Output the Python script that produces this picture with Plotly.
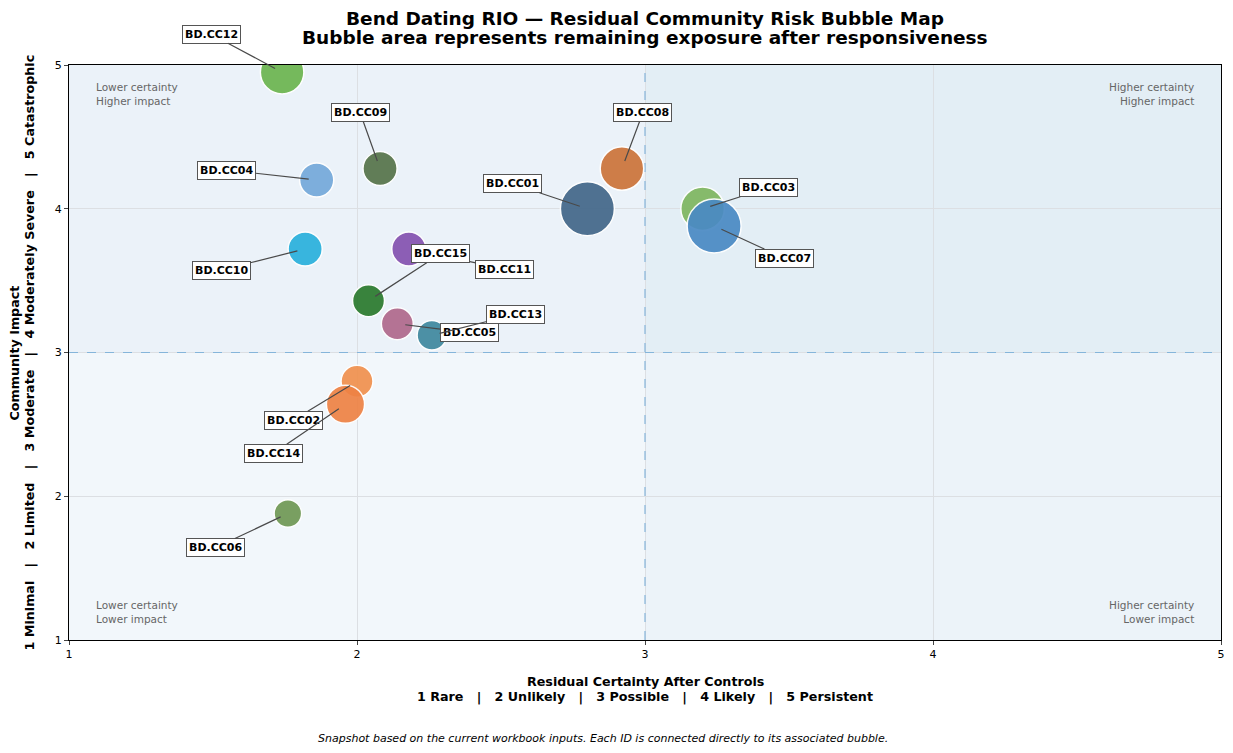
import plotly.graph_objects as go

# risk register snapshot
risk_ids = ["BD.CC01", "BD.CC02", "BD.CC03", "BD.CC04", "BD.CC05",
            "BD.CC06", "BD.CC07", "BD.CC08", "BD.CC09", "BD.CC10",
            "BD.CC11", "BD.CC12", "BD.CC13", "BD.CC14", "BD.CC15"]
certainty = [2.80, 2.00, 3.20, 1.86, 2.14, 1.76, 3.24, 2.92, 2.08, 1.82,
             2.18, 1.74, 2.26, 1.96, 2.04]
impact = [4.00, 2.80, 4.00, 4.20, 3.20, 1.88, 3.88, 4.28, 4.28, 3.72,
          3.72, 4.95, 3.12, 2.64, 3.36]
exposure = [20, 7, 13, 8, 7, 5.2, 20, 13, 8, 8, 8, 13, 6, 10, 7]
colors = ["#426789", "#F0914E", "#7FB660", "#74A9DA", "#B0698C",
          "#6F9854", "#4A8AC4", "#CC743A", "#56744A", "#29B0DC",
          "#8452B0", "#6CB54F", "#3F889E", "#EE8244", "#2A7A2E"]

# label offsets in pixels (label centre relative to bubble)
label_dx = [-75, -64, 66, -90, 72, -72, 70, 21, -20, -84, 96, -71, 84, -72, 72]
label_dy = [-25, 39, -21, -10, 9, 34, 32, -56, -56, 21, 20, -38, -21, 49, -47]

FONT = "DejaVu Sans"

# small bubbles first so large ones sit on top
order = sorted(range(len(risk_ids)), key=lambda i: exposure[i])

fig = go.Figure()

# quadrant shading
quads = [(1, 3, 3, 5, "#EBF2F9"), (3, 5, 3, 5, "#E3EEF5"),
         (1, 3, 1, 3, "#F2F7FB"), (3, 5, 1, 3, "#ECF3F9")]
for x0, x1, y0, y1, c in quads:
    fig.add_shape(type="rect", x0=x0, x1=x1, y0=y0, y1=y1, fillcolor=c,
                  line_width=0, layer="below")

fig.add_shape(type="line", x0=3, x1=3, y0=1, y1=5,
              line=dict(color="#85B5DA", width=1.2, dash="dash"), layer="between")
fig.add_shape(type="line", x0=1, x1=5, y0=3, y1=3,
              line=dict(color="#85B5DA", width=1.2, dash="dash"), layer="between")

fig.add_trace(go.Scatter(
    x=[certainty[i] for i in order],
    y=[impact[i] for i in order],
    mode="markers",
    text=[risk_ids[i] for i in order],
    marker=dict(
        size=[exposure[i] for i in order],
        sizemode="area",
        sizeref=2 * 20 / 54 ** 2,
        color=[colors[i] for i in order],
        opacity=0.92,
        line=dict(color="white", width=1.5),
    ),
    hovertemplate="%{text}<br>Certainty %{x}<br>Impact %{y}<extra></extra>",
    showlegend=False,
))

# ID labels with leader lines
for i, rid in enumerate(risk_ids):
    fig.add_annotation(
        x=certainty[i], y=impact[i], text=f"<b>{rid}</b>",
        showarrow=True, arrowhead=0, arrowwidth=1.2, arrowcolor="#4a4a4a",
        ax=label_dx[i], ay=label_dy[i], standoff=8,
        font=dict(family=FONT, size=11, color="black"),
        bgcolor="white", bordercolor="#555555", borderwidth=1, borderpad=2,
    )

# quadrant notes
notes = [(0.022, 0.975, "left", "top", "Lower certainty<br>Higher impact"),
         (0.978, 0.975, "right", "top", "Higher certainty<br>Higher impact"),
         (0.022, 0.022, "left", "bottom", "Lower certainty<br>Lower impact"),
         (0.978, 0.022, "right", "bottom", "Higher certainty<br>Lower impact")]
for nx, ny, xa, ya, txt in notes:
    fig.add_annotation(x=nx, y=ny, xref="paper", yref="paper", text=txt,
                       showarrow=False, xanchor=xa, yanchor=ya, align=xa,
                       font=dict(family=FONT, size=10.5, color="#666666"))

# titles as separate lines
texts = [
    (0.5, 1.0809, 0, "Bend Dating RIO — Residual Community Risk Bubble Map", 18.5, "<b>{}</b>"),
    (0.5, 1.047, 0, "Bubble area represents remaining exposure after responsiveness", 18.5, "<b>{}</b>"),
    (0.5, -0.073, 0, "Residual Certainty After Controls", 12.7, "<b>{}</b>"),
    (0.5, -0.0991, 0, "1 Rare   |   2 Unlikely   |   3 Possible   |   4 Likely   |   5 Persistent", 12.7, "<b>{}</b>"),
    (-0.0469, 0.5, -90, "Community Impact", 12.7, "<b>{}</b>"),
    (-0.0339, 0.5, -90, "1 Minimal   |   2 Limited   |   3 Moderate   |   4 Moderately Severe   |   5 Catastrophic", 12.7, "<b>{}</b>"),
    (0.4635, -0.172, 0, "Snapshot based on the current workbook inputs. Each ID is connected directly to its associated bubble.", 11, "<i>{}</i>"),
]
for tx, ty, ang, txt, sz, fmt in texts:
    fig.add_annotation(x=tx, y=ty, xref="paper", yref="paper", text=fmt.format(txt),
                       showarrow=False, xanchor="center", yanchor="middle",
                       textangle=ang, font=dict(family=FONT, size=sz, color="black"))

fig.update_layout(
    width=1225, height=745,
    margin=dict(l=61, r=8, t=57, b=113),
    paper_bgcolor="white", plot_bgcolor="white",
    font=dict(family=FONT, size=11, color="black"),
)

fig.update_xaxes(
    range=[1, 5], tickvals=[1, 2, 3, 4, 5], ticks="outside", ticklen=4,
    showgrid=True, gridcolor="#DCDFE3", gridwidth=1, zeroline=False,
    showline=True, linecolor="black", linewidth=1, mirror=True,
)
fig.update_yaxes(
    range=[1, 5], tickvals=[1, 2, 3, 4, 5], ticks="outside", ticklen=4,
    showgrid=True, gridcolor="#DCDFE3", gridwidth=1, zeroline=False,
    showline=True, linecolor="black", linewidth=1, mirror=True,
)

fig.write_html("out.html")
